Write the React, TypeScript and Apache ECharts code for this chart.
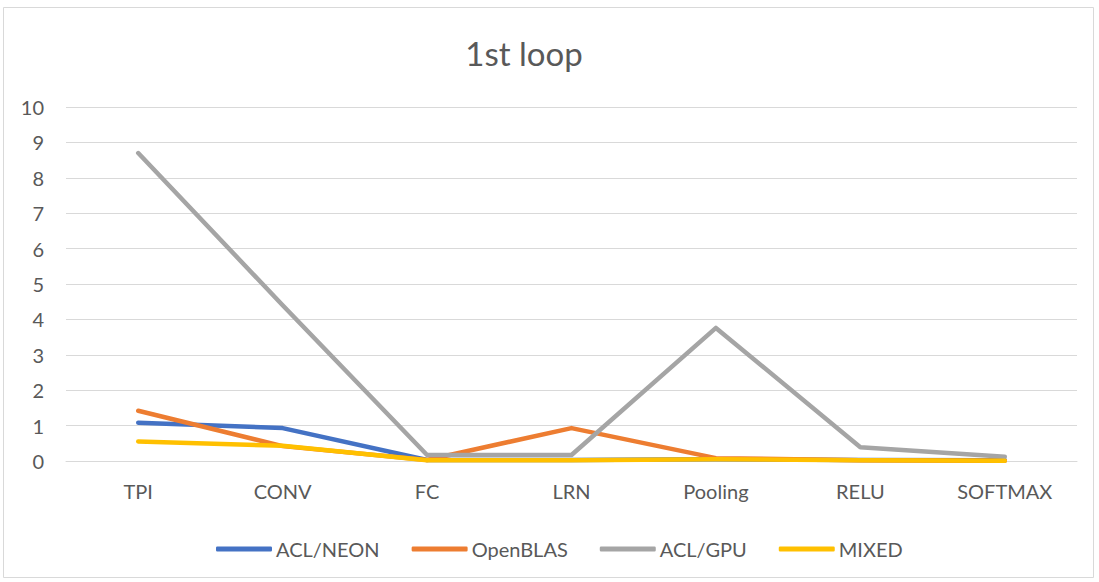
import React, { useEffect, useRef } from "react";
import * as echarts from "echarts";

const categories = ["TPI", "CONV", "FC", "LRN", "Pooling", "RELU", "SOFTMAX"];
const aclNeon = [1.08, 0.93, 0.03, 0.03, 0.05, 0.03, 0.02];
const openBlas = [1.42, 0.42, 0.03, 0.93, 0.08, 0.02, 0.01];
const aclGpu = [8.7, 4.4, 0.17, 0.17, 3.76, 0.39, 0.12];
const mixed = [0.55, 0.43, 0.02, 0.02, 0.05, 0.02, 0.01];
const yTicks = { min: 0, max: 10, interval: 1 };

const FONT = "Lato, 'Open Sans', sans-serif";

export default function App() {
  const ref = useRef<HTMLDivElement>(null);
  useEffect(() => {
    document.body.style.margin = "0";
    const chart = echarts.init(ref.current!, undefined, { renderer: "svg" });
    const mk = (name: string, data: number[], color: string) => ({
      name,
      type: "line",
      data,
      symbol: "none",
      lineStyle: { width: 4.5, color, cap: "round", join: "round" },
      itemStyle: { color },
    });
    chart.setOption({
      animation: false,
      backgroundColor: "#ffffff",
      textStyle: { fontFamily: FONT },
      title: {
        text: "1st loop",
        left: 519,
        top: 31,
        textAlign: "center",
        textStyle: { fontFamily: FONT, fontSize: 33, fontWeight: "normal", color: "#595959" },
      },
      graphic: [
        {
          type: "rect",
          shape: { x: 3.5, y: 7.5, width: 1090, height: 570 },
          style: { fill: "none", stroke: "#d9d9d9", lineWidth: 1 },
          silent: true,
        },
      ],
      legend: {
        left: 211,
        top: 534,
        itemWidth: 56,
        itemHeight: 5,
        itemGap: 32,
        icon: "roundRect",
        textStyle: { fontFamily: FONT, fontSize: 20, color: "#595959", padding: [0, 0, 0, -1] },
        data: ["ACL/NEON", "OpenBLAS", "ACL/GPU", "MIXED"],
      },
      grid: { left: 66, right: 22, top: 107, bottom: 121 },
      xAxis: {
        type: "category",
        data: categories,
        boundaryGap: true,
        axisLine: { lineStyle: { color: "#d9d9d9", width: 1 } },
        axisTick: { show: false },
        axisLabel: { fontFamily: FONT, fontSize: 20, color: "#595959", margin: 20 },
      },
      yAxis: {
        type: "value",
        min: yTicks.min,
        max: yTicks.max,
        interval: yTicks.interval,
        axisLine: { show: false },
        axisTick: { show: false },
        axisLabel: { fontFamily: FONT, fontSize: 20, color: "#595959", margin: 22 },
        splitLine: { lineStyle: { color: "#d9d9d9", width: 1 } },
      },
      series: [
        mk("ACL/NEON", aclNeon, "#4472c4"),
        mk("OpenBLAS", openBlas, "#ed7d31"),
        mk("ACL/GPU", aclGpu, "#a5a5a5"),
        mk("MIXED", mixed, "#ffc000"),
      ],
    });
    return () => chart.dispose();
  }, []);
  return <div ref={ref} style={{ width: 1099, height: 582 }} />;
}
